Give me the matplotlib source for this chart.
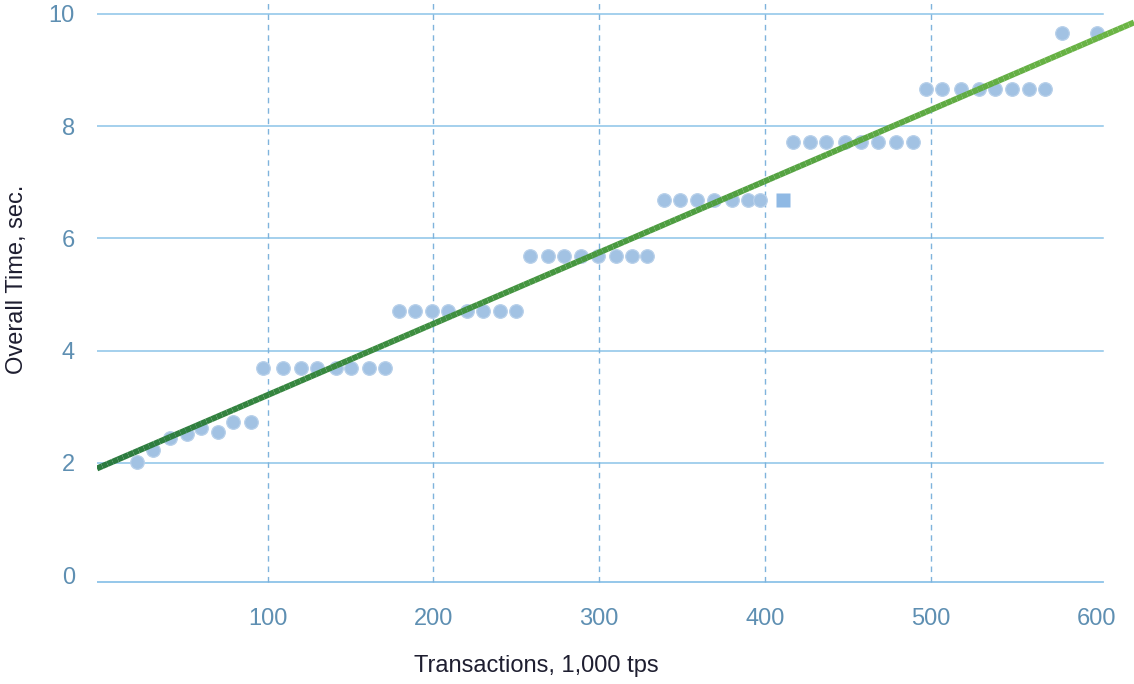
import numpy as np
import matplotlib
matplotlib.use("Agg")
import matplotlib.pyplot as plt
from matplotlib.collections import LineCollection
from matplotlib.colors import LinearSegmentedColormap

plt.rcParams["font.family"] = ["Liberation Sans", "DejaVu Sans"]

# Measured throughput (thousand tps) and overall time (sec)
tps = [21, 31, 41, 51, 60, 70, 79, 90,
       97, 109, 120, 130, 141, 150, 161, 171,
       179, 189, 199, 209, 220, 230, 240, 250,
       258, 269, 279, 289, 299, 310, 320, 329,
       339, 349, 359, 369, 380, 390, 397,
       417, 427, 437, 448, 458, 468, 479, 489,
       497, 507, 518, 529, 539, 549, 559, 569,
       579, 600]
seconds = [2.02, 2.23, 2.44, 2.51, 2.62, 2.55, 2.72, 2.72,
           3.69, 3.69, 3.69, 3.69, 3.69, 3.69, 3.69, 3.69,
           4.70, 4.70, 4.70, 4.70, 4.70, 4.70, 4.70, 4.70,
           5.68, 5.68, 5.68, 5.68, 5.68, 5.68, 5.68, 5.68,
           6.68, 6.68, 6.68, 6.68, 6.68, 6.68, 6.68,
           7.71, 7.71, 7.71, 7.71, 7.71, 7.71, 7.71, 7.71,
           8.66, 8.66, 8.66, 8.66, 8.66, 8.66, 8.66, 8.66,
           9.66, 9.66]

# Highlighted measurement
special_tps = [411]
special_sec = [6.68]

x_ticks = [100, 200, 300, 400, 500, 600]
y_ticks = [0, 2, 4, 6, 8, 10]

fig = plt.figure(figsize=(11.34, 6.84), dpi=100)
ax = fig.add_axes([97 / 1134, 94 / 684, 1037 / 1134, 590 / 684])
x_lo, x_hi = -3.0, 622.6
y_lo, y_hi = -0.267, 10.245
ax.set_xlim(x_lo, x_hi)
ax.set_ylim(y_lo, y_hi)
for s in ax.spines.values():
    s.set_visible(False)
ax.tick_params(length=0)

grid_blue = "#8cc3e8"
# horizontal grid lines
for yv in y_ticks[1:]:
    ax.plot([x_lo, 604], [yv, yv], color=grid_blue, lw=1.1, zorder=1)
ax.plot([x_lo, 604], [-0.12, -0.12], color=grid_blue, lw=1.3, zorder=1)
# vertical dashed grid lines
for xv in x_ticks[:-1]:
    ax.plot([xv, xv], [-0.12, y_hi], color="#7fb3dc", lw=1.0,
            dashes=(4, 3.5), zorder=1)

# points
ax.plot(tps, seconds, linestyle="none", marker="o", markersize=9.8,
        markerfacecolor="#a2c2e3", markeredgecolor="#b8d0ea",
        markeredgewidth=0.9, zorder=2)
ax.plot(special_tps, special_sec, linestyle="none", marker="s",
        markersize=10, markerfacecolor="#8fb9e4", markeredgecolor="none",
        zorder=2)

# least-squares trend line with a colour gradient
k, b = np.polyfit(tps, seconds, 1)
xs = np.linspace(x_lo, x_hi, 200)
ys = k * xs + b
pts = np.column_stack([xs, ys]).reshape(-1, 1, 2)
segs = np.concatenate([pts[:-1], pts[1:]], axis=1)
cmap = LinearSegmentedColormap.from_list("trend", ["#2b7a3f", "#4a9a40", "#6cb545"])
lc = LineCollection(segs, cmap=cmap, linewidths=4.3, capstyle="butt", zorder=3)
lc.set_array(np.linspace(0, 1, len(segs)))
ax.add_collection(lc)

tick_color = "#5e8fb2"
ax.set_xticks(x_ticks)
ax.set_xticklabels([str(v) for v in x_ticks], fontsize=17, color=tick_color)
ax.set_yticks(y_ticks)
ax.set_yticklabels([str(v) for v in y_ticks], fontsize=17, color=tick_color)
ax.tick_params(axis="x", pad=13)
ax.tick_params(axis="y", pad=16)

ax.set_xlabel("Transactions, 1,000 tps", fontsize=17, color="#1e1e30")
ax.set_ylabel("Overall Time, sec.", fontsize=17, color="#1e1e30")
ax.xaxis.set_label_coords(0.4233, -0.111)
ax.yaxis.set_label_coords(-0.0665, 0.527)

fig.savefig("out.png", dpi=100)
